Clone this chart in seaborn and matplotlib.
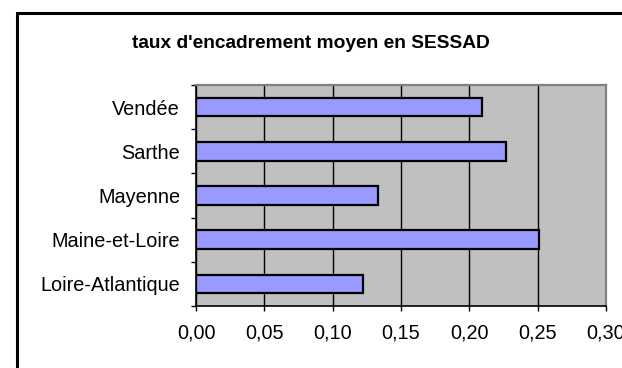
import matplotlib
matplotlib.use("Agg")
import matplotlib.pyplot as plt
from matplotlib.patches import Rectangle
from matplotlib.ticker import FixedLocator
import seaborn as sns
import pandas as pd

# Départements (top to bottom) and mean staffing ratio in SESSAD
departements = ["Vendée", "Sarthe", "Mayenne", "Maine-et-Loire", "Loire-Atlantique"]
taux = [0.209, 0.227, 0.133, 0.251, 0.122]
x_ticks = [0.00, 0.05, 0.10, 0.15, 0.20, 0.25, 0.30]
x_tick_labels = ["0,00", "0,05", "0,10", "0,15", "0,20", "0,25", "0,30"]
titre = "taux d'encadrement moyen en SESSAD"

sns.set_style("white")
plt.rcParams["font.family"] = ["Liberation Sans", "DejaVu Sans"]
plt.rcParams["text.color"] = "black"
plt.rcParams["xtick.color"] = "black"
plt.rcParams["ytick.color"] = "black"

df = pd.DataFrame({"departement": departements, "taux": taux})

fig = plt.figure(figsize=(6.22, 3.68), dpi=100)
ax = fig.add_axes([196 / 622, 1 - 306 / 368, (606 - 196) / 622, (306 - 85) / 368])

sns.barplot(data=df, x="taux", y="departement", orient="h", color="#9999FF",
            saturation=1, edgecolor="black", linewidth=1.6, width=0.42, ax=ax)

ax.set_facecolor("#C0C0C0")
ax.set_xlim(0, 0.30)
ax.set_ylim(len(departements) - 0.5, -0.5)
ax.set_xlabel("")
ax.set_ylabel("")

ax.set_xticks(x_ticks)
ax.set_xticklabels(x_tick_labels, fontsize=14.3)
ax.xaxis.grid(True, color="black", linewidth=1.0)
ax.yaxis.grid(False)
ax.set_axisbelow(True)

ax.tick_params(axis="x", direction="out", length=3.6, width=1, color="black",
               pad=9, bottom=True, labelcolor="black")
ax.tick_params(axis="y", which="major", length=0, pad=11.5, labelsize=14.3,
               labelcolor="black")
ax.yaxis.set_minor_locator(FixedLocator([i - 0.5 for i in range(len(departements) + 1)]))
ax.tick_params(axis="y", which="minor", direction="out", length=3.6, width=1,
               color="black", left=True)

for side in ("left", "bottom"):
    ax.spines[side].set_color("black")
    ax.spines[side].set_linewidth(1.2)
for side in ("top", "right"):
    ax.spines[side].set_color("#808080")
    ax.spines[side].set_linewidth(1.6)
    ax.spines[side].set_visible(True)

fig.text(311 / 622, 1 - 44 / 368, titre, ha="center", va="center",
         fontsize=13.8, fontweight="bold", color="black")

# Chart area frame, running past the right and bottom edges
fig.patches.append(Rectangle((17 / 622, -0.05), 1.0, 1 - 13 / 368 + 0.05,
                             transform=fig.transFigure, fill=False,
                             edgecolor="black", linewidth=2.2, zorder=10))

fig.savefig("out.png", dpi=100)
